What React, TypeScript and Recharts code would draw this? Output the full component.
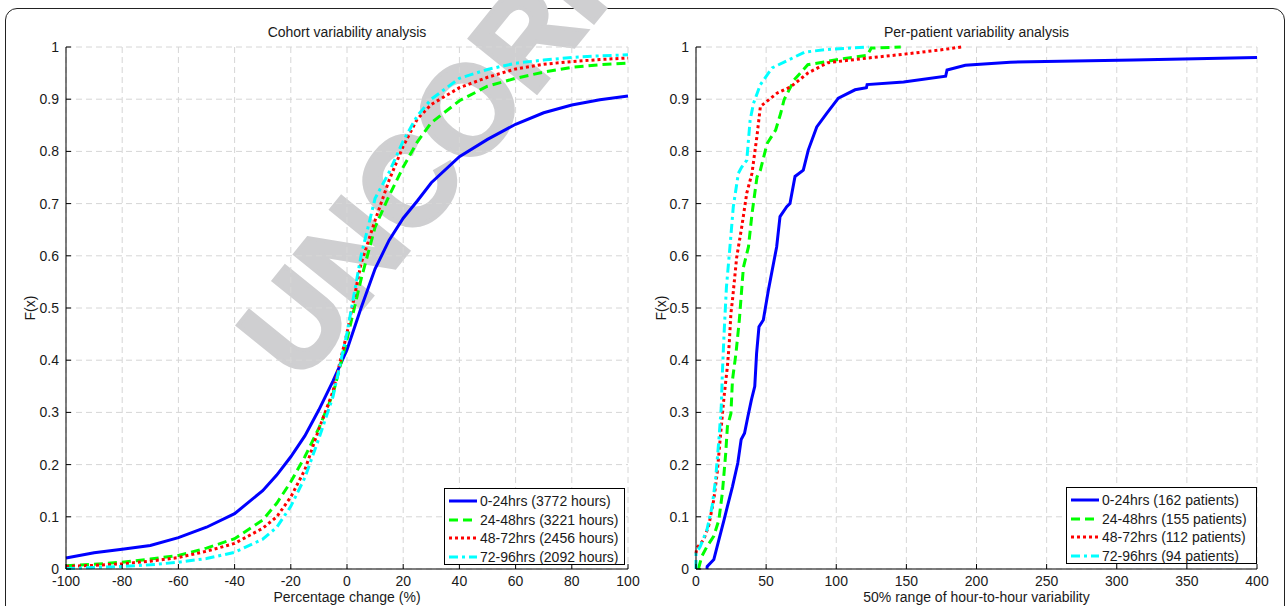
import { LineChart, Line, XAxis, YAxis, CartesianGrid, Legend } from 'recharts';

const FONT = '"Liberation Sans", Arial, Helvetica, sans-serif';

// Cohort variability (left panel): CDF of hour-to-hour percentage change
const cohortX = [-100, -90, -80, -70, -60, -50, -40, -30, -25, -20, -15, -10, -5, 0, 5, 10, 15, 20, 25, 30, 40, 50, 60, 70, 80, 90, 100];
const cohort0to24 = [0.021, 0.031, 0.038, 0.045, 0.06, 0.08, 0.106, 0.15, 0.18, 0.215, 0.255, 0.305, 0.36, 0.42, 0.5, 0.575, 0.63, 0.672, 0.705, 0.74, 0.79, 0.823, 0.852, 0.874, 0.889, 0.899, 0.906];
const cohort24to48 = [0.006, 0.009, 0.013, 0.019, 0.026, 0.04, 0.058, 0.094, 0.126, 0.167, 0.215, 0.27, 0.335, 0.44, 0.555, 0.655, 0.715, 0.77, 0.818, 0.855, 0.897, 0.925, 0.94, 0.952, 0.961, 0.966, 0.969];
const cohort48to72 = [0.005, 0.007, 0.01, 0.015, 0.022, 0.034, 0.049, 0.078, 0.1, 0.138, 0.19, 0.268, 0.34, 0.452, 0.585, 0.668, 0.745, 0.81, 0.862, 0.89, 0.922, 0.942, 0.958, 0.967, 0.972, 0.976, 0.979];
const cohort72to96 = [0.001, 0.003, 0.005, 0.008, 0.013, 0.02, 0.032, 0.057, 0.08, 0.12, 0.175, 0.25, 0.33, 0.452, 0.6, 0.71, 0.76, 0.82, 0.868, 0.9, 0.94, 0.957, 0.969, 0.975, 0.98, 0.983, 0.985];

// Per-patient variability (right panel): empirical CDFs
const patientX0to24 = [7.8, 8, 12.7, 16.3, 20, 22.4, 26, 29.8, 32.2, 34.6, 37, 39.5, 41.9, 43.2, 44.9, 48, 51.6, 57.5, 59.9, 64.7, 67, 70.6, 76.5, 80.1, 86.1, 93.2, 101.5, 113.4, 121.5, 122, 148, 178, 179, 192, 224, 312, 400];
const patientF0to24 = [0, 0.005, 0.018, 0.056, 0.094, 0.12, 0.158, 0.203, 0.248, 0.26, 0.292, 0.324, 0.35, 0.413, 0.464, 0.477, 0.534, 0.617, 0.675, 0.694, 0.7, 0.752, 0.764, 0.803, 0.847, 0.873, 0.902, 0.918, 0.922, 0.928, 0.933, 0.944, 0.956, 0.965, 0.971, 0.975, 0.98];
const patientX24to48 = [1.7, 4.1, 7.8, 12.7, 16.3, 18.8, 21.2, 22.4, 24.9, 26, 28.5, 30.9, 33.8, 37.4, 39.9, 43.5, 45.9, 50.7, 56.8, 60.4, 62.8, 70, 79.7, 101.4, 122, 125, 146];
const patientF24to48 = [0, 0.024, 0.043, 0.063, 0.094, 0.146, 0.222, 0.273, 0.298, 0.362, 0.413, 0.477, 0.578, 0.617, 0.68, 0.751, 0.764, 0.815, 0.841, 0.873, 0.899, 0.937, 0.966, 0.976, 0.984, 0.998, 1];
const patientX48to72 = [0, 0.5, 5.4, 9, 12.7, 15.1, 17.6, 20, 22.4, 23.7, 24.9, 26, 29, 32.6, 36.2, 39.9, 43.5, 45.9, 58, 67.6, 79.7, 94, 123, 151, 176, 189];
const patientF48to72 = [0.03, 0.04, 0.056, 0.082, 0.133, 0.184, 0.26, 0.33, 0.388, 0.432, 0.49, 0.515, 0.597, 0.655, 0.72, 0.758, 0.83, 0.886, 0.912, 0.924, 0.95, 0.97, 0.979, 0.987, 0.995, 1];
const patientX72to96 = [0, 0, 3, 7.8, 11.5, 13.9, 16.3, 18, 18.8, 20, 21.7, 24.2, 26.6, 30.2, 32.6, 36.2, 38.6, 41, 45.9, 54.3, 77.3, 92, 123];
const patientF72to96 = [0, 0.03, 0.043, 0.075, 0.12, 0.17, 0.247, 0.31, 0.375, 0.45, 0.54, 0.617, 0.694, 0.758, 0.77, 0.783, 0.86, 0.892, 0.928, 0.96, 0.99, 0.995, 1];

const cohortLabels = ['0-24hrs (3772 hours)', '24-48hrs (3221 hours)', '48-72hrs (2456 hours)', '72-96hrs (2092 hours)'];
const patientLabels = ['0-24hrs (162 patients)', '24-48hrs (155 patients)', '48-72hrs (112 patients)', '72-96hrs (94 patients)'];

const cohortTicks = [-100, -80, -60, -40, -20, 0, 20, 40, 60, 80, 100];
const patientTicks = [0, 50, 100, 150, 200, 250, 300, 350, 400];
const fTicks = [0, 0.1, 0.2, 0.3, 0.4, 0.5, 0.6, 0.7, 0.8, 0.9, 1];

const seriesKeys = ['s0', 's1', 's2', 's3'];
const seriesColors = ['#0000ff', '#00ff00', '#ff0000', '#00ffff'];
const seriesDash = [undefined, '9 5', '3 3', '9 4 3 4'];

const cohortData = cohortX.map((x, i) => ({
  x,
  s0: cohort0to24[i],
  s1: cohort24to48[i],
  s2: cohort48to72[i],
  s3: cohort72to96[i],
}));

const zip = (xs: number[], ys: number[]) => xs.map((x, i) => ({ x, y: ys[i] }));
const patientSeries = [
  zip(patientX0to24, patientF0to24),
  zip(patientX24to48, patientF24to48),
  zip(patientX48to72, patientF48to72),
  zip(patientX72to96, patientF72to96),
];

const tickStyle = { fontFamily: FONT, fontSize: 14, fill: '#1a1a1a' };

function LegendBox({ labels, width }: { labels: string[]; width: number }) {
  return (
    <div
      style={{
        border: '1px solid #000',
        background: '#fff',
        width,
        height: 77,
        boxSizing: 'border-box',
        padding: '3px 0 0 4px',
        fontFamily: FONT,
        fontSize: 14,
        color: '#1a1a1a',
      }}
    >
      {labels.map((l, i) => (
        <div key={l} style={{ display: 'flex', alignItems: 'center', height: 18.6, whiteSpace: 'nowrap' }}>
          <svg width={28} height={6} style={{ marginRight: 3, flex: 'none' }}>
            <line x1={0} x2={28} y1={3} y2={3} stroke={seriesColors[i]} strokeWidth={3} strokeDasharray={seriesDash[i]} />
          </svg>
          <span>{l}</span>
        </div>
      ))}
    </div>
  );
}

const textStyle = (extra: React.CSSProperties): React.CSSProperties => ({
  position: 'absolute',
  fontFamily: FONT,
  fontSize: 14,
  lineHeight: '18px',
  color: '#1a1a1a',
  textAlign: 'center',
  whiteSpace: 'nowrap',
  ...extra,
});

export default function App() {
  return (
    <div style={{ position: 'absolute', left: 0, top: 0, width: 1287, height: 606, overflow: 'hidden', background: '#fff' }}>
      <div
        style={{
          position: 'absolute',
          left: 5,
          top: 8,
          width: 1278,
          height: 720,
          border: '1.5px solid #222',
          borderRadius: 12,
        }}
      />
      <svg width={1287} height={606} style={{ position: 'absolute', left: 0, top: 0 }}>
        <text
          x={300}
          y={385}
          transform="rotate(-51 300 385)"
          fontFamily={FONT}
          fontWeight="bold"
          fontSize={125}
          fill="#cfcfd1"
          stroke="#cfcfd1"
          strokeWidth={4}
        >
          UNCORRECTED
        </text>
      </svg>

      {/* left panel */}
      <div style={{ position: 'absolute', left: 0, top: 0 }}>
        <LineChart width={650} height={606} data={cohortData} margin={{ top: 47, right: 22, bottom: 0, left: 10 }}>
          <CartesianGrid stroke="#d6d6d6" strokeDasharray="6 4" />
          <XAxis
            dataKey="x"
            type="number"
            domain={[-100, 100]}
            ticks={cohortTicks}
            height={37}
            tickSize={-5}
            tickMargin={12}
            tick={tickStyle}
            axisLine={{ stroke: '#000' }}
            tickLine={{ stroke: '#000' }}
            interval={0}
          />
          <XAxis
            xAxisId="top"
            orientation="top"
            type="number"
            domain={[-100, 100]}
            ticks={cohortTicks}
            height={0}
            tickSize={-5}
            tickFormatter={() => ''}
            axisLine={false}
            tickLine={{ stroke: '#000' }}
            interval={0}
          />
          <YAxis
            type="number"
            domain={[0, 1]}
            ticks={fTicks}
            width={56}
            tickSize={-5}
            tickMargin={12}
            tick={tickStyle}
            axisLine={{ stroke: '#000' }}
            tickLine={{ stroke: '#000' }}
            interval={0}
          />
          <YAxis
            yAxisId="r"
            orientation="right"
            type="number"
            domain={[0, 1]}
            ticks={fTicks}
            width={0}
            tickSize={-5}
            tickFormatter={() => ''}
            axisLine={false}
            tickLine={{ stroke: '#000' }}
            interval={0}
          />
          {seriesKeys.map((k, i) => (
            <Line
              key={k}
              dataKey={k}
              name={cohortLabels[i]}
              type="linear"
              stroke={seriesColors[i]}
              strokeWidth={3}
              strokeDasharray={seriesDash[i]}
              dot={false}
              activeDot={false}
              isAnimationActive={false}
            />
          ))}
          <Legend
            layout="vertical"
            align="center"
            verticalAlign="middle"
            wrapperStyle={{ position: 'absolute', left: 444, top: 488, width: 181 }}
            content={() => <LegendBox labels={cohortLabels} width={181} />}
          />
        </LineChart>
      </div>

      {/* right panel */}
      <div style={{ position: 'absolute', left: 640, top: 0 }}>
        <LineChart width={647} height={606} margin={{ top: 47, right: 30, bottom: 0, left: 0 }}>
          <CartesianGrid stroke="#d6d6d6" strokeDasharray="6 4" />
          <XAxis
            dataKey="x"
            type="number"
            domain={[0, 400]}
            ticks={patientTicks}
            height={37}
            tickSize={-5}
            tickMargin={12}
            tick={tickStyle}
            axisLine={{ stroke: '#000' }}
            tickLine={{ stroke: '#000' }}
            interval={0}
            allowDuplicatedCategory={false}
          />
          <XAxis
            xAxisId="top"
            orientation="top"
            type="number"
            domain={[0, 400]}
            ticks={patientTicks}
            height={0}
            tickSize={-5}
            tickFormatter={() => ''}
            axisLine={false}
            tickLine={{ stroke: '#000' }}
            interval={0}
          />
          <YAxis
            type="number"
            domain={[0, 1]}
            ticks={fTicks}
            width={56}
            tickSize={-5}
            tickMargin={12}
            tick={tickStyle}
            axisLine={{ stroke: '#000' }}
            tickLine={{ stroke: '#000' }}
            interval={0}
          />
          <YAxis
            yAxisId="r"
            orientation="right"
            type="number"
            domain={[0, 1]}
            ticks={fTicks}
            width={0}
            tickSize={-5}
            tickFormatter={() => ''}
            axisLine={false}
            tickLine={{ stroke: '#000' }}
            interval={0}
          />
          {patientSeries.map((d, i) => (
            <Line
              key={seriesKeys[i]}
              data={d}
              dataKey="y"
              name={patientLabels[i]}
              type="linear"
              stroke={seriesColors[i]}
              strokeWidth={3}
              strokeDasharray={seriesDash[i]}
              dot={false}
              activeDot={false}
              isAnimationActive={false}
            />
          ))}
          <Legend
            layout="vertical"
            align="center"
            verticalAlign="middle"
            wrapperStyle={{ position: 'absolute', left: 426, top: 487, width: 191 }}
            content={() => <LegendBox labels={patientLabels} width={191} />}
          />
        </LineChart>
      </div>

      <div style={textStyle({ left: 66, width: 562, top: 23 })}>Cohort variability analysis</div>
      <div style={textStyle({ left: 696, width: 561, top: 23 })}>Per-patient variability analysis</div>
      <div style={textStyle({ left: 66, width: 562, top: 588 })}>Percentage change (%)</div>
      <div style={textStyle({ left: 696, width: 561, top: 588 })}>50% range of hour-to-hour variability</div>
      <div style={textStyle({ left: 0, width: 60, top: 299, transform: 'rotate(-90deg)' })}>F(x)</div>
      <div style={textStyle({ left: 631, width: 60, top: 299, transform: 'rotate(-90deg)' })}>F(x)</div>
    </div>
  );
}
